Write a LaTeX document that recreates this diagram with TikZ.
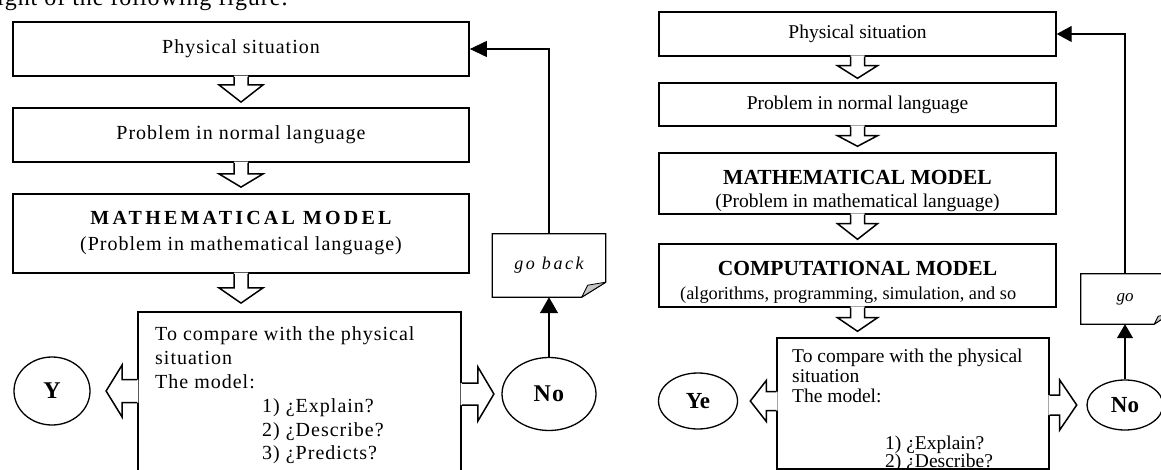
\documentclass[tikz,border=0pt]{standalone}
\usepackage{fontspec}
\setmainfont{Liberation Serif}
\newfontfamily\spc[LetterSpace=5]{Liberation Serif}
\newfontfamily\spcB[LetterSpace=16]{Liberation Serif}
\newfontfamily\spcI[LetterSpace=14]{Liberation Serif}
\newfontfamily\spcC[LetterSpace=4]{Liberation Serif}
\usetikzlibrary{shapes.geometric,arrows.meta,calc}
\newcommand\bdown[6]{%
  \path (#1.south |- #2.north) coordinate (tmpt);
  \fill[white] ($(#1.south)+(-#3,-1.3)$) -- ($(#1.south)+(#3,-1.3)$) -- ($(#1.south)+(#3,#5)$) -- ($(#1.south)+(#4,#5)$) -- ($(tmpt)+(0,-#6)$) -- ($(#1.south)+(-#4,#5)$) -- ($(#1.south)+(-#3,#5)$) -- cycle;
  \draw[blk] ($(#1.south)+(-#3,0)$) -- ($(#1.south)+(-#3,#5)$) -- ($(#1.south)+(-#4,#5)$) -- ($(tmpt)+(0,-#6)$) -- ($(#1.south)+(#4,#5)$) -- ($(#1.south)+(#3,#5)$) -- ($(#1.south)+(#3,0)$);
}
\newcommand\bhor[6]{%
  \fill[white] ($(#1)+({-1.3*#2},{-#3})$) -- ($(#1)+({#2*#5},{-#3})$) -- ($(#1)+({#2*#5},{-#4})$) -- ($(#1)+({#2*#6},0)$) -- ($(#1)+({#2*#5},{#4})$) -- ($(#1)+({#2*#5},{#3})$) -- ($(#1)+({-1.3*#2},{#3})$) -- cycle;
  \draw[blk] ($(#1)+(0,{-#3})$) -- ($(#1)+({#2*#5},{-#3})$) -- ($(#1)+({#2*#5},{-#4})$) -- ($(#1)+({#2*#6},0)$) -- ($(#1)+({#2*#5},{#4})$) -- ($(#1)+({#2*#5},{#3})$) -- ($(#1)+(0,{#3})$);
}
\begin{document}
\begin{tikzpicture}[x=1pt,y=-1pt,
  boxL/.style={draw, line width=1.8pt, inner sep=0pt},
  boxR/.style={draw, line width=1.4pt, inner sep=0pt},
  oval/.style={draw, ellipse, line width=1.3pt, inner sep=0pt},
  conn/.style={line width=1.3pt},
  note/.style={line width=1.2pt},
  blk/.style={line width=1.5pt, line join=miter},
  txtL/.style={font=\fontsize{20}{20}\selectfont\spc, inner sep=0pt},
  ttlL/.style={font=\fontsize{20}{20}\selectfont\spcB\bfseries, inner sep=0pt},
  lstL/.style={font=\fontsize{20}{20}\selectfont\spc, inner sep=0pt, anchor=base west},
  txtR/.style={font=\fontsize{19.5}{19.5}\selectfont, inner sep=0pt},
  ttlR/.style={font=\fontsize{21.5}{21.5}\selectfont\bfseries, inner sep=0pt},
  lstR/.style={font=\fontsize{19.5}{19.5}\selectfont, inner sep=0pt, anchor=base west},
]
\useasboundingbox (0,0) rectangle (1161,470);

% caption fragment at the top
\node[anchor=base west, inner sep=0pt, font=\fontsize{24}{24}\selectfont\spcC] (cap) at (-3,6) {ight of the following figure.};

% ===== left figure =====
\node[boxL, txtL, minimum width=456pt, minimum height=54pt] (b1) at (241,49) {Physical situation};
\node[boxL, txtL, minimum width=456pt, minimum height=54pt] (b2) at (241,135) {Problem in normal language};
\node[boxL, minimum width=456pt, minimum height=79pt] (b3) at (241,233.5) {};
\node[ttlL, anchor=base] (b3t) at (241,225) {MATHEMATICAL MODEL};
\node[txtL, anchor=base] (b3s) at (241,251) {(Problem in mathematical language)};
\node[boxL, minimum width=323pt, minimum height=220pt] (b4) at (299.5,422) {};
\node[lstL] (l1) at (155,340) {To compare with the physical};
\node[lstL] (l2) at (155,364) {situation};
\node[lstL] (l3) at (155,388) {The model:};
\node[lstL] (l4) at (262,412) {1) ¿Explain?};
\node[lstL] (l5) at (262,436) {2) ¿Describe?};
\node[lstL] (l6) at (262,459) {3) ¿Predicts?};

\node[oval, minimum width=76pt, minimum height=68pt, font=\fontsize{24}{24}\selectfont\bfseries] (Yl) at (52,391) {Y};
\node[oval, minimum width=94pt, minimum height=73pt, font=\fontsize{24}{24}\selectfont\spc\bfseries] (NoL) at (549,394) {No};

\node[minimum width=113pt, minimum height=63pt, inner sep=0pt, font=\fontsize{18}{18}\selectfont\spcI\itshape] (noteL) at (549,265.5) {go back};
\draw[note] (noteL.north west) -- (noteL.north east) -- ($(noteL.south east)+(0,-15)$) -- ($(noteL.south east)+(-24,0)$) -- (noteL.south west) -- cycle;
\filldraw[fill=black!22, line width=0.8pt, line join=round] ($(noteL.south east)+(-24,0)$) -- ($(noteL.south east)+(-18,-12)$) -- ($(noteL.south east)+(0,-15)$) -- cycle;

\bdown{b1}{b2}{7}{22}{8}{5}
\bdown{b2}{b3}{7}{22}{11}{6}
\bdown{b3}{b4}{7}{22}{14}{8}
\coordinate (la) at (b4.west |- Yl.center);
\bhor{la}{-1}{11.5}{26}{15}{31}
\coordinate (ra) at (b4.east |- NoL.center);
\bhor{ra}{1}{11}{27}{16}{32}

\draw[conn, -{Triangle[length=16pt,width=18pt]}] (NoL.north) -- (noteL.south);
\draw[conn, -{Triangle[length=17pt,width=16pt]}] (noteL.north) |- (b1.east);

% ===== right figure =====
\node[boxR, txtR, minimum width=397pt, minimum height=44pt] (r1) at (857.5,34) {Physical situation};
\node[boxR, txtR, minimum width=397pt, minimum height=43pt] (r2) at (857.5,104.5) {Problem in normal language};
\node[boxR, minimum width=397pt, minimum height=61pt] (r3) at (857.5,183.5) {};
\node[ttlR, anchor=base] (r3t) at (857.5,185) {MATHEMATICAL MODEL};
\node[txtR, anchor=base] (r3s) at (857.5,208) {(Problem in mathematical language)};
\node[boxR, minimum width=397pt, minimum height=63pt] (r4) at (857.5,275.5) {};
\node[ttlR, anchor=base] (r4t) at (857.5,276) {COMPUTATIONAL MODEL};
\node[font=\fontsize{18.3}{18.3}\selectfont, inner sep=0pt, anchor=base west] (r4s) at (680,299) {(algorithms, programming, simulation, and so};
\node[boxR, minimum width=272pt, minimum height=131pt] (r5) at (913,403.5) {};
\node[lstR] (m1) at (792,362) {To compare with the physical};
\node[lstR] (m2) at (792,382) {situation};
\node[lstR] (m3) at (792,402) {The model:};
\node[lstR] (m4) at (885,449) {1) ¿Explain?};
\node[lstR] (m5) at (885,467.5) {2) ¿Describe?};

\node[oval, minimum width=79pt, minimum height=56pt, font=\fontsize{23}{23}\selectfont\bfseries] (Ye) at (698,401) {Ye};
\node[oval, minimum width=76pt, minimum height=50pt, font=\fontsize{23}{23}\selectfont\bfseries] (NoR) at (1125,405) {No};

\node[minimum width=88pt, minimum height=50pt, inner sep=0pt, font=\fontsize{17}{17}\selectfont\itshape] (noteR) at (1125,299) {go};
\draw[note] (noteR.north west) -- (noteR.north east) -- ($(noteR.south east)+(0,-10)$) -- ($(noteR.south east)+(-15,0)$) -- (noteR.south west) -- cycle;
\filldraw[fill=black!22, line width=0.8pt, line join=round] ($(noteR.south east)+(-15,0)$) -- ($(noteR.south east)+(-11,-8)$) -- ($(noteR.south east)+(0,-10)$) -- cycle;

\bdown{r1}{r2}{7}{20}{9}{4}
\bdown{r2}{r3}{7}{20}{9}{6}
\bdown{r3}{r4}{7}{20}{9}{4}
\bdown{r4}{r5}{7}{20}{10}{6}
\coordinate (lb) at (r5.west |- Ye.center);
\bhor{lb}{-1}{9.5}{20.5}{10}{26}
\coordinate (rb) at (r5.east |- NoR.center);
\bhor{rb}{1}{10}{25}{10}{27}

\draw[conn, -{Triangle[length=14pt,width=16pt]}] (NoR.north) -- (noteR.south);
\draw[conn, -{Triangle[length=15pt,width=16pt]}] (noteR.north) |- (r1.east);
\end{tikzpicture}
\end{document}
